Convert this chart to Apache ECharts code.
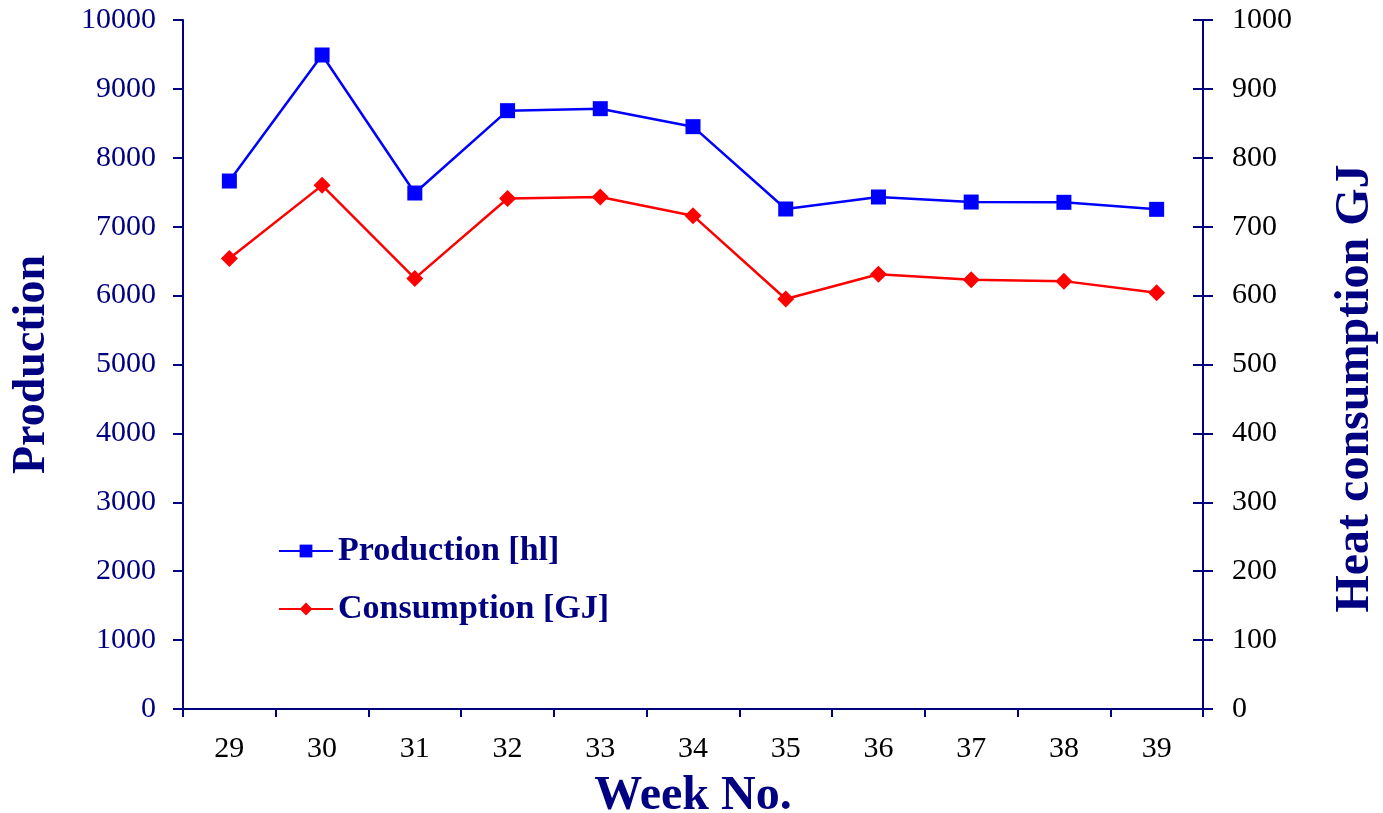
<!DOCTYPE html>
<html><head><meta charset="utf-8">
<script src="https://cdn.jsdelivr.net/npm/echarts@6/dist/echarts.min.js"></script>
<style>html,body{margin:0;padding:0;background:#fff}#c{width:1383px;height:813px}</style>
</head><body><div id="c"></div>
<script>
const weeks = ['29','30','31','32','33','34','35','36','37','38','39'];
const production = [7663, 9492, 7489, 8684, 8713, 8452, 7257, 7431, 7358, 7354, 7252];
const consumption = [654, 760, 625, 741, 743, 716, 595, 631, 623, 621, 604];
const leftTicks = [0, 10000, 1000];
const rightTicks = [0, 1000, 100];

const navy = '#000080';
const font = 'Liberation Serif, Times New Roman, serif';
const plain = v => String(v);
const chart = echarts.init(document.getElementById('c'));
chart.setOption({
  animation: false,
  textStyle: {fontFamily: font},
  grid: {left: 183, right: 180, top: 20, bottom: 104, containLabel: false, outerBoundsMode: 'none'},
  legend: {
    orient: 'vertical', left: 278, top: 532, padding: 0, itemWidth: 54, itemHeight: 16, itemGap: 20,
    textStyle: {fontFamily: font, fontSize: 34, fontWeight: 'bold', color: navy, lineHeight: 38},
    data: ['Production [hl]', 'Consumption [GJ]']
  },
  xAxis: {
    type: 'category', data: weeks, boundaryGap: true,
    name: 'Week No.', nameLocation: 'middle', nameGap: 64,
    nameTextStyle: {fontFamily: font, fontSize: 48, fontWeight: 'bold', color: navy},
    axisLine: {lineStyle: {color: navy, width: 2}},
    axisTick: {show: true, length: 8, lineStyle: {color: navy, width: 2}},
    axisLabel: {fontFamily: font, fontSize: 30, color: '#000', margin: 25},
    splitLine: {show: false}
  },
  yAxis: [
    {
      type: 'value', min: leftTicks[0], max: leftTicks[1], interval: leftTicks[2], position: 'left',
      name: 'Production', nameLocation: 'middle', nameGap: 128, nameRotate: 90,
      nameTextStyle: {fontFamily: font, fontSize: 46, fontWeight: 'bold', color: navy},
      axisLine: {show: true, lineStyle: {color: navy, width: 2}},
      axisTick: {show: true, length: 10, lineStyle: {color: navy, width: 2}},
      axisLabel: {fontFamily: font, fontSize: 30, color: navy, margin: 27, formatter: plain},
      splitLine: {show: false}
    },
    {
      type: 'value', min: rightTicks[0], max: rightTicks[1], interval: rightTicks[2], position: 'right',
      name: 'Heat consumption GJ', nameLocation: 'middle', nameGap: 129, nameRotate: 90,
      nameTextStyle: {fontFamily: font, fontSize: 48, fontWeight: 'bold', color: navy, padding: [0, 48, 0, 0]},
      axisLine: {show: true, lineStyle: {color: navy, width: 2}},
      axisTick: {show: true, length: 10, lineStyle: {color: navy, width: 2}},
      axisLabel: {fontFamily: font, fontSize: 30, color: '#000', margin: 29, formatter: plain},
      splitLine: {show: false}
    },
    {
      type: 'value', min: rightTicks[0], max: rightTicks[1], interval: rightTicks[2], position: 'right',
      axisLine: {show: false},
      axisTick: {show: true, inside: true, length: 10, lineStyle: {color: navy, width: 2}},
      axisLabel: {show: false},
      splitLine: {show: false}
    }
  ],
  series: [
    {
      name: 'Production [hl]', type: 'line', yAxisIndex: 0, data: production,
      symbol: 'rect', symbolSize: 15,
      lineStyle: {color: '#0000ff', width: 2.5}, itemStyle: {color: '#0000ff'}
    },
    {
      name: 'Consumption [GJ]', type: 'line', yAxisIndex: 1, data: consumption,
      symbol: 'diamond', symbolSize: 17,
      lineStyle: {color: '#ff0000', width: 2.5}, itemStyle: {color: '#ff0000'}
    }
  ]
});
</script></body></html>
